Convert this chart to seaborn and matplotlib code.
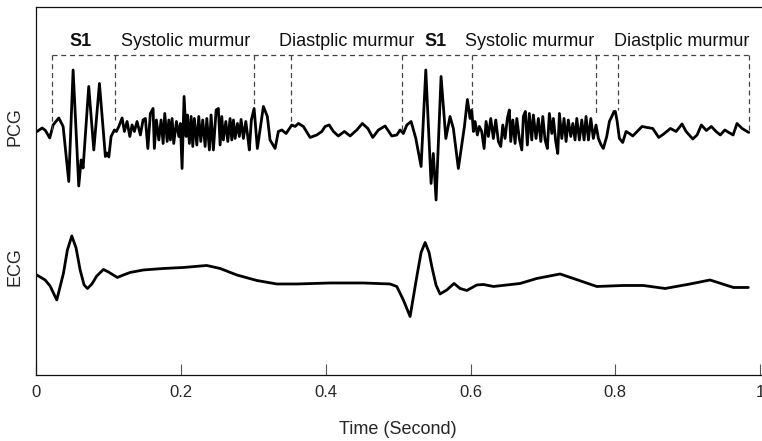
import numpy as np
import matplotlib
matplotlib.use("Agg")
import matplotlib.pyplot as plt
import seaborn as sns

# PCG trace (time in s, amplitude in arbitrary units)
pcg_t = [0.0008, 0.0078, 0.0123, 0.0183, 0.0230, 0.0308, 0.0368, 0.0446, 0.0506, 0.0584,
         0.0617, 0.0644, 0.0722, 0.0792, 0.0870, 0.0952, 0.0975, 0.1000, 0.1031, 0.1077,
         0.1104, 0.1138, 0.1183, 0.1215, 0.1252, 0.1290, 0.1321, 0.1353, 0.1390, 0.1436,
         0.1473, 0.1505, 0.1539, 0.1574, 0.1611, 0.1629, 0.1657, 0.1691, 0.1722, 0.1750,
         0.1773, 0.1806, 0.1829, 0.1851, 0.1874, 0.1897, 0.1934, 0.1967, 0.1989, 0.2012,
         0.2040, 0.2068, 0.2086, 0.2113, 0.2137, 0.2160, 0.2182, 0.2216, 0.2243, 0.2271,
         0.2298, 0.2331, 0.2354, 0.2390, 0.2413, 0.2445, 0.2483, 0.2514, 0.2538, 0.2561,
         0.2583, 0.2617, 0.2644, 0.2676, 0.2699, 0.2722, 0.2745, 0.2777, 0.2804, 0.2828,
         0.2860, 0.2893, 0.2920, 0.2942, 0.2970, 0.3008, 0.3053, 0.3136, 0.3191, 0.3228,
         0.3298, 0.3343, 0.3391, 0.3450, 0.3529, 0.3574, 0.3620, 0.3689, 0.3782, 0.3874,
         0.3944, 0.3989, 0.4045, 0.4104, 0.4172, 0.4256, 0.4335, 0.4427, 0.4504, 0.4580,
         0.4648, 0.4726, 0.4818, 0.4911, 0.4980, 0.5026, 0.5071, 0.5119, 0.5178, 0.5243,
         0.5316, 0.5381, 0.5454, 0.5485, 0.5523, 0.5592, 0.5658, 0.5716, 0.5762, 0.5831,
         0.5915, 0.5956, 0.5993, 0.6016, 0.6039, 0.6062, 0.6094, 0.6121, 0.6154, 0.6187,
         0.6214, 0.6246, 0.6279, 0.6315, 0.6348, 0.6384, 0.6417, 0.6445, 0.6477, 0.6508,
         0.6536, 0.6555, 0.6584, 0.6615, 0.6639, 0.6674, 0.6708, 0.6730, 0.6757, 0.6785,
         0.6812, 0.6846, 0.6868, 0.6905, 0.6937, 0.6971, 0.6998, 0.7030, 0.7061, 0.7089,
         0.7123, 0.7145, 0.7177, 0.7205, 0.7228, 0.7261, 0.7292, 0.7320, 0.7351, 0.7385,
         0.7413, 0.7444, 0.7468, 0.7504, 0.7537, 0.7569, 0.7596, 0.7629, 0.7662, 0.7697,
         0.7734, 0.7767, 0.7804, 0.7835, 0.7882, 0.7919, 0.7952, 0.7983, 0.8001, 0.8026,
         0.8057, 0.8103, 0.8149, 0.8195, 0.8242, 0.8302, 0.8370, 0.8440, 0.8518, 0.8601,
         0.8670, 0.8762, 0.8841, 0.8923, 0.8979, 0.9071, 0.9131, 0.9190, 0.9259, 0.9328,
         0.9393, 0.9452, 0.9514, 0.9569, 0.9629, 0.9683, 0.9753, 0.9845]
pcg_v = [-0.03, 0.04, -0.01, -0.16, 0.10, 0.24, 0.07, -1.03, 1.20, -1.12,
         -0.60, -0.76, 0.87, -0.40, 0.93, -0.53, -0.46, -0.54, -0.13, 0.00,
         -0.03, 0.07, 0.24, -0.03, 0.17, -0.13, 0.10, -0.03, 0.17, -0.10,
         0.20, 0.23, -0.37, 0.33, 0.43, -0.37, 0.20, -0.20, 0.20, -0.27,
         0.33, -0.23, 0.20, -0.20, 0.23, -0.27, 0.17, -0.13, 0.13, -0.77,
         0.67, -0.13, 0.30, -0.27, 0.27, -0.33, 0.23, -0.30, 0.27, -0.23,
         0.20, -0.33, 0.23, -0.40, 0.30, -0.40, 0.40, 0.43, -0.30, 0.27,
         -0.20, 0.17, -0.23, 0.23, -0.20, 0.20, -0.17, 0.13, -0.13, 0.21,
         -0.17, 0.17, -0.13, -0.40, 0.20, 0.43, -0.37, 0.47, 0.27, -0.20,
         -0.37, -0.03, 0.00, -0.07, 0.10, 0.07, 0.13, 0.07, -0.15, -0.10,
         -0.03, 0.07, 0.10, -0.03, -0.12, -0.03, -0.12, 0.00, 0.13, 0.03,
         -0.15, 0.00, 0.08, -0.12, -0.10, 0.00, -0.07, 0.10, 0.17, -0.17,
         -0.73, 1.20, -1.07, -0.47, -1.40, 1.07, -0.17, 0.27, 0.03, -0.77,
         0.07, 0.61, 0.23, 0.40, -0.03, 0.17, -0.10, 0.07, -0.03, -0.37,
         0.17, -0.13, 0.23, -0.17, 0.20, -0.23, -0.33, 0.10, -0.17, 0.23,
         0.40, -0.23, 0.20, -0.27, 0.23, -0.17, -0.40, 0.27, 0.37, -0.30,
         0.33, -0.20, 0.30, -0.17, 0.23, -0.23, 0.27, -0.20, -0.37, 0.33,
         -0.07, 0.23, -0.23, -0.47, 0.33, -0.17, 0.23, -0.23, 0.20, -0.13,
         0.13, -0.20, 0.23, -0.20, 0.20, -0.20, 0.27, -0.20, 0.23, -0.17,
         0.10, -0.17, -0.30, -0.37, -0.13, 0.17, 0.27, 0.37, 0.37, 0.17,
         -0.17, -0.25, -0.03, -0.07, -0.12, -0.03, 0.07, 0.05, 0.03, -0.15,
         -0.08, 0.03, -0.03, 0.12, -0.03, -0.18, -0.10, 0.10, -0.01, 0.07,
         -0.03, -0.10, 0.00, -0.05, -0.10, 0.13, 0.03, -0.05]

# ECG trace
ecg_t = [0.0004, 0.0119, 0.0188, 0.0280, 0.0372, 0.0427, 0.0488, 0.0547, 0.0603, 0.0658,
         0.0705, 0.0766, 0.0833, 0.0925, 0.0994, 0.1118, 0.1201, 0.1294, 0.1477, 0.1754,
         0.2030, 0.2354, 0.2538, 0.2769, 0.3045, 0.3321, 0.3598, 0.4058, 0.4518, 0.4887,
         0.4980, 0.5071, 0.5164, 0.5257, 0.5316, 0.5372, 0.5426, 0.5464, 0.5522, 0.5578,
         0.5671, 0.5772, 0.5855, 0.5948, 0.6086, 0.6177, 0.6316, 0.6500, 0.6684, 0.6915,
         0.7237, 0.7421, 0.7744, 0.8112, 0.8388, 0.8689, 0.9034, 0.9310, 0.9633, 0.9839]
ecg_v = [0.10, 0.00, -0.12, -0.40, 0.13, 0.60, 0.88, 0.64, 0.20, -0.10,
         -0.17, -0.08, 0.08, 0.21, 0.16, 0.05, 0.10, 0.15, 0.20, 0.23,
         0.25, 0.29, 0.23, 0.10, -0.01, -0.08, -0.08, -0.06, -0.06, -0.08,
         -0.13, -0.40, -0.73, 0.07, 0.55, 0.75, 0.55, 0.27, -0.10, -0.28,
         -0.20, -0.07, -0.17, -0.21, -0.10, -0.09, -0.13, -0.10, -0.07, 0.03,
         0.12, 0.03, -0.13, -0.11, -0.11, -0.17, -0.08, 0.00, -0.15, -0.15]

# segment brackets
bracket_t = [0.0212, 0.1090, 0.3008, 0.3515, 0.5057, 0.6024, 0.7734, 0.8035, 0.9853]
bracket_low = [0.00, 0.20, 0.47, 0.14, -0.06, 0.40, 0.30, 0.40, -0.03]
seg_labels = ["S1", "Systolic murmur", "Diastplic murmur", "S1", "Systolic murmur", "Diastplic murmur"]
seg_centers = [0.0603, 0.2061, 0.4283, 0.5517, 0.6821, 0.8913]
seg_bold = [True, False, False, True, False, False]

tick_vals = [0, 0.2, 0.4, 0.6, 0.8, 1.0]
tick_text = ["0", "0.2", "0.4", "0.6", "0.8", "1"]

PCG_OFFSET = 3.0
BRACKET_TOP = 4.49
LABEL_Y = 4.68

sns.set_theme(style="white")
plt.rcParams['font.family'] = ['Liberation Sans', 'DejaVu Sans']

fig = plt.figure(figsize=(7.62, 4.41), dpi=100)
ax = fig.add_axes([0.0479, 0.1497, 0.9874, 0.8345])

sns.lineplot(x=pcg_t, y=np.array(pcg_v) + PCG_OFFSET, ax=ax, color="black",
             linewidth=2.0, estimator=None, sort=False, solid_joinstyle="round")
sns.lineplot(x=ecg_t, y=ecg_v, ax=ax, color="black",
             linewidth=2.0, estimator=None, sort=False, solid_joinstyle="round")

# dashed brackets
ax.plot([bracket_t[0], bracket_t[-1]], [BRACKET_TOP, BRACKET_TOP],
        ls=(0, (4, 3)), color="#444444", lw=0.9)
for bt, bl in zip(bracket_t, bracket_low):
    ax.plot([bt, bt], [BRACKET_TOP, bl + PCG_OFFSET], ls=(0, (4, 3)), color="#444444", lw=0.9)

for lab, xc, bold in zip(seg_labels, seg_centers, seg_bold):
    ax.text(xc, LABEL_Y, lab, ha="center", va="baseline", fontsize=13,
            fontweight="bold" if bold else "normal", color="#111111")

ax.set_xlim(0, 1.04)
ax.set_ylim(-1.9, 5.46)
ax.set_xticks(tick_vals)
ax.set_xticklabels(tick_text, fontsize=12)
ax.set_yticks([])
ax.tick_params(axis="x", direction="in", length=8, width=0.8, color="#555555", pad=7, bottom=True)
for sp in ax.spines.values():
    sp.set_color("#111111")
    sp.set_linewidth(0.9)

fig.text(15 / 762, 1 - 127 / 441, "PCG", rotation=90, ha="center", va="center", fontsize=13)
fig.text(15 / 762, 1 - 267 / 441, "ECG", rotation=90, ha="center", va="center", fontsize=13)
fig.text(398 / 762, 1 - 429 / 441, "Time (Second)", ha="center", va="center", fontsize=13)

fig.savefig("out.png", dpi=100)
